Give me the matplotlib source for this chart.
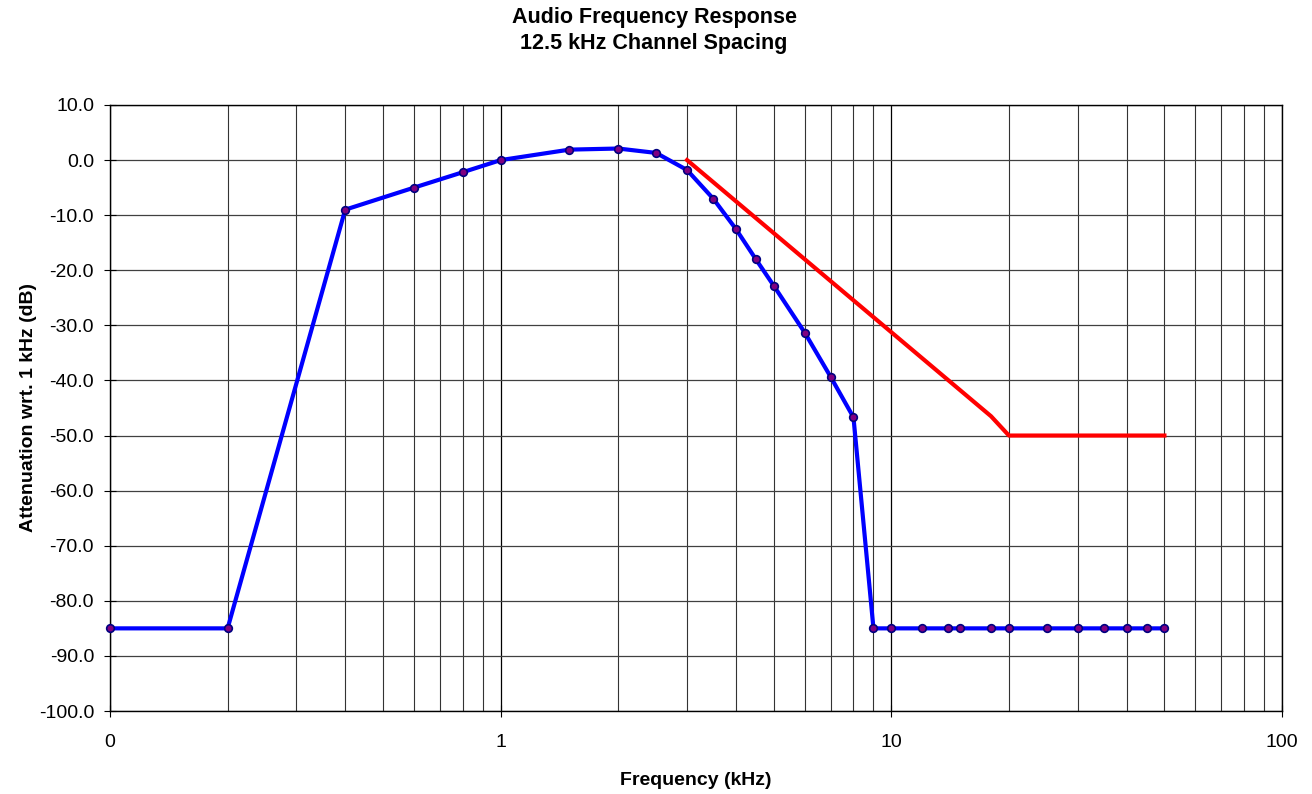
#load library
import matplotlib
matplotlib.use("Agg")
import matplotlib.pyplot as plt
from matplotlib.ticker import FixedLocator, FixedFormatter, LogLocator, NullFormatter

plt.rcParams['font.family'] = ['Liberation Sans', 'DejaVu Sans']

# measured response (kHz, dB)
freq_khz = [0.1, 0.2, 0.4, 0.6, 0.8, 1.0, 1.5, 2.0, 2.5, 3.0, 3.5, 4.0, 4.5, 5.0,
            6.0, 7.0, 8.0, 9.0, 10, 12, 14, 15, 18, 20, 25, 30, 35, 40, 45, 50]
atten_db = [-85.0, -85.0, -9.0, -5.0, -2.2, 0.0, 1.9, 2.1, 1.3, -1.8, -7.0, -12.5, -18.0, -22.8,
            -31.3, -39.4, -46.7, -85.0, -85.0, -85.0, -85.0, -85.0, -85.0, -85.0, -85.0, -85.0,
            -85.0, -85.0, -85.0, -85.0]

# spec limit line
limit_khz = [3.0, 18.0, 20.0, 50.0]
limit_db = [0.0, -46.5, -50.0, -50.0]

x_ticks = [0.1, 1, 10, 100]
x_tick_labels = ['0', '1', '10', '100']
y_ticks = list(range(-100, 11, 10))

fig = plt.figure(figsize=(13.12, 7.94), dpi=100)
ax = fig.add_axes([110/1312, 1-711/794, (1282-110)/1312, (711-105)/794])

ax.plot(limit_khz, limit_db, color='#ff0000', lw=3, zorder=3)
ax.plot(freq_khz, atten_db, color='#0000ff', lw=3, marker='o', ms=5.5,
        mfc='#800080', mec='#000080', mew=1.2, zorder=4, clip_on=False)

ax.set_xscale('log')
ax.set_xlim(0.1, 100)
ax.set_ylim(-100, 10)
ax.xaxis.set_major_locator(FixedLocator(x_ticks))
ax.xaxis.set_major_formatter(FixedFormatter(x_tick_labels))
ax.xaxis.set_minor_locator(LogLocator(base=10, subs=range(2, 10)))
ax.xaxis.set_minor_formatter(NullFormatter())
ax.set_yticks(y_ticks)
ax.set_yticklabels(['%.1f' % v for v in y_ticks])

ax.grid(True, which='major', axis='x', color='black', lw=0.9)
ax.grid(True, which='minor', axis='x', color='#333333', lw=0.8)
ax.grid(True, which='major', axis='y', color='#404040', lw=0.9)
ax.tick_params(axis='x', which='minor', length=0)
ax.tick_params(axis='both', which='major', labelsize=14, length=9, direction='inout', color='black')
ax.tick_params(axis='x', which='major', pad=12)
ax.tick_params(axis='y', which='major', pad=7)
for s in ax.spines.values():
    s.set_color('black')
    s.set_linewidth(1)

ax.set_xlabel('Frequency (kHz)', fontsize=14, fontweight='bold', labelpad=15)
ax.set_ylabel('Attenuation wrt. 1 kHz (dB)', fontsize=14, fontweight='bold', labelpad=1)
fig.text(0.4985, 1-18/794, 'Audio Frequency Response', ha='center', va='center',
         fontsize=15.5, fontweight='bold')
fig.text(0.4985, 1-44/794, '12.5 kHz Channel Spacing', ha='center', va='center',
         fontsize=15.5, fontweight='bold')

fig.savefig('out.png', dpi=100)
